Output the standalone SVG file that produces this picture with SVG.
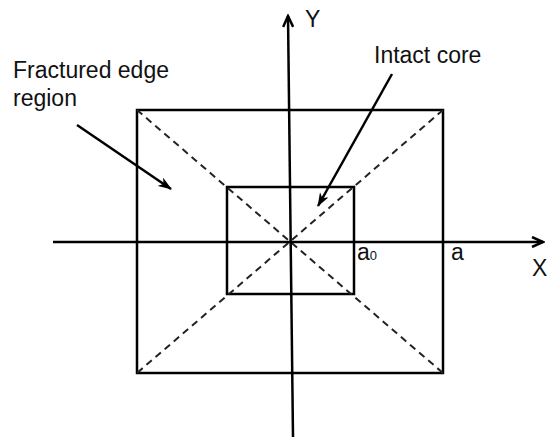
<svg xmlns="http://www.w3.org/2000/svg" width="547" height="443" viewBox="0 0 547 443">
<style>
.ln{stroke:#000;stroke-width:2.5;fill:none}
.dash{stroke:#222;stroke-width:2;fill:none;stroke-dasharray:7 5}
.t{font-family:"Liberation Sans",Arial,sans-serif;font-size:23px;fill:#111}
</style>
<defs>
<marker id="ah" markerWidth="14" markerHeight="10" refX="13" refY="5" orient="auto" markerUnits="userSpaceOnUse">
<path d="M0,0 L14,5 L0,10 L4,5 Z" fill="#000"/>
</marker>
<marker id="ax" markerWidth="14" markerHeight="12" refX="12" refY="6" orient="auto" markerUnits="userSpaceOnUse">
<path d="M1,1 L12,6 L1,11" fill="none" stroke="#000" stroke-width="2.5"/>
</marker>
</defs>
<rect width="547" height="443" fill="#fff"/>
<g id="outer-rect"><rect class="ln" x="137" y="110" width="306" height="263"/></g>
<g id="inner-rect"><rect class="ln" x="227" y="187" width="127" height="107"/></g>
<g id="connectors">
<line class="dash" x1="137" y1="110" x2="443" y2="373"/>
<line class="dash" x1="443" y1="110" x2="137" y2="373"/>
<line class="ln" x1="53" y1="242" x2="543" y2="242" marker-end="url(#ax)"/>
<line class="ln" x1="293" y1="437" x2="288" y2="16" marker-end="url(#ax)"/>
<line class="ln" x1="77" y1="125" x2="171" y2="189" marker-end="url(#ah)"/>
<line class="ln" x1="392" y1="74" x2="318" y2="206" marker-end="url(#ah)"/>
</g>
<g id="labels">
<text class="t" x="13" y="78">Fractured edge</text>
<text class="t" x="13" y="106">region</text>
<text class="t" x="374" y="63" font-size="24">Intact core</text>
<text class="t" x="305" y="27" font-size="20">Y</text>
<text class="t" x="532" y="276" font-size="20">X</text>
<text class="t" x="357" y="260">a<tspan font-size="13">0</tspan></text>
<text class="t" x="451" y="260">a</text>
</g>
</svg>
